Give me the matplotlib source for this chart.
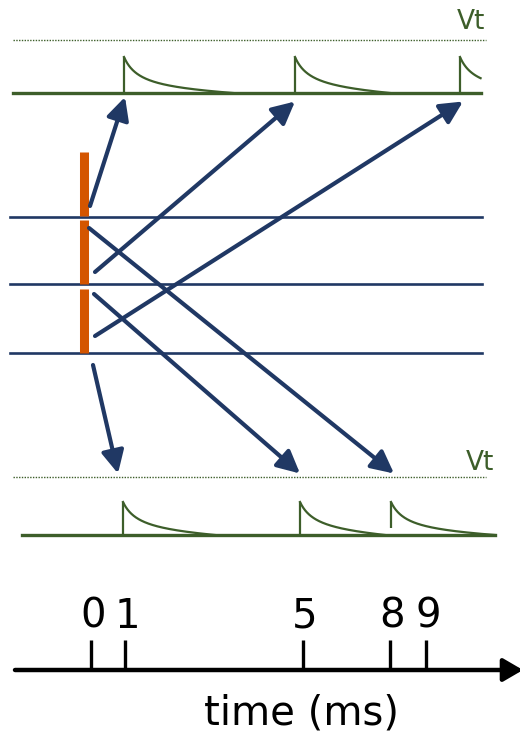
import numpy as np
import matplotlib
matplotlib.use("Agg")
import matplotlib.pyplot as plt
from matplotlib.patches import FancyArrowPatch

# data: spike times (ms) and the time axis labels
time_ticks = [0, 1, 5, 8, 9]
top_spikes = [1, 5, 9]
bottom_spikes = [1, 5, 8]
n_synapses = 3

# layout (pixels, figure is 520x741, y grows downwards)
tick_px = {0: 91, 1: 125, 5: 303, 8: 390, 9: 426}
top_spike_px = {1: 124, 5: 295, 9: 460}
bottom_spike_px = {1: 123, 5: 300, 8: 391}
top_decay = {1: 109, 5: 95, 9: 105}
bottom_decay = {1: 92, 5: 85, 8: 104}

green = "#3d5e2a"
navy = "#203864"
orange = "#d45500"

fig = plt.figure(figsize=(5.2, 7.41), dpi=100)
ax = fig.add_axes([0, 0, 1, 1])
ax.set_xlim(0, 520)
ax.set_ylim(741, 0)
ax.axis("off")


def psp(x0, base, h, L, x_max=None, stem_from=None):
    # fast rise, slow (hyperbolic-ish) decay back to the baseline
    d = np.linspace(0, L, 200)
    b = 16.0
    g = 1 / (1 + d / b) - (d / L) / (1 + L / b)
    y = base - h * g
    x = x0 + d
    if x_max is not None:
        keep = x <= x_max
        x, y = x[keep], y[keep]
    y_stem = base if stem_from is None else stem_from
    ax.plot([x0, x0], [y_stem, base - h], color=green, lw=1.6, solid_capstyle="butt")
    ax.plot(x, y, color=green, lw=1.6)


def arrow(p0, p1):
    a = FancyArrowPatch(p0, p1, arrowstyle="-|>,head_length=0.68,head_width=0.34",
                        mutation_scale=20, color=navy, lw=3.0,
                        shrinkA=0, shrinkB=0, zorder=4)
    ax.add_patch(a)


# top neuron
ax.plot([13, 486], [40, 40], color=green, lw=1.0, ls=(0, (1, 1)))
ax.text(485, 22, "Vt", color=green, fontsize=19, ha="right", va="center")
ax.plot([13, 481], [93, 93], color=green, lw=2.4, zorder=3)
for t in top_spikes:
    psp(top_spike_px[t], 93, 36, top_decay[t], x_max=481)

# synapse lines and the orange stimulus bars
line_y = [216.7, 284.3, 352.7]
for y in line_y:
    ax.plot([10, 482], [y, y], color=navy, lw=1.9, zorder=2)
bar_top = [152, 220, 289]
bar_bot = [216, 284, 353]
for i in range(n_synapses):
    ax.plot([83.5, 83.5], [bar_top[i], bar_bot[i]], color=orange, lw=6.5,
            solid_capstyle="butt", zorder=3)

# arrows
up_tails = [(90, 206), (95, 272), (95, 336)]
for tail, t in zip(up_tails, top_spikes):
    tip_x = {1: 125, 5: 295, 9: 463}[t]
    arrow(tail, (tip_x, 97 if t == 1 else 101.5))

down_tails = [(93, 365), (94, 294), (89, 228)]
for tail, t in zip(down_tails, bottom_spikes):
    tip_x = {1: 118, 5: 300, 8: 394}[t]
    arrow(tail, (tip_x, 473.5))

# bottom neuron
ax.plot([13, 486], [476.7, 476.7], color=green, lw=1.0, ls=(0, (1, 1)))
ax.text(494, 463, "Vt", color=green, fontsize=19, ha="right", va="center")
ax.plot([22, 495], [535, 535], color=green, lw=2.4, zorder=3)
for t in bottom_spikes:
    psp(bottom_spike_px[t], 535, 33, bottom_decay[t],
        stem_from=528 if t == 8 else None)

# time axis
ax.add_patch(FancyArrowPatch((15, 670), (523, 670),
                             arrowstyle="-|>,head_length=0.6,head_width=0.35",
                             mutation_scale=20, color="black", lw=3.2,
                             shrinkA=0, shrinkB=0))
for t in time_ticks:
    x = tick_px[t]
    ax.plot([x, x], [640, 670], color="black", lw=2.4, solid_capstyle="butt")
    ax.text(x + 2, 617, str(t), fontsize=29, ha="center", va="center")
ax.text(302, 714, "time (ms)", fontsize=29, ha="center", va="center")

fig.savefig("out.png", dpi=100)
